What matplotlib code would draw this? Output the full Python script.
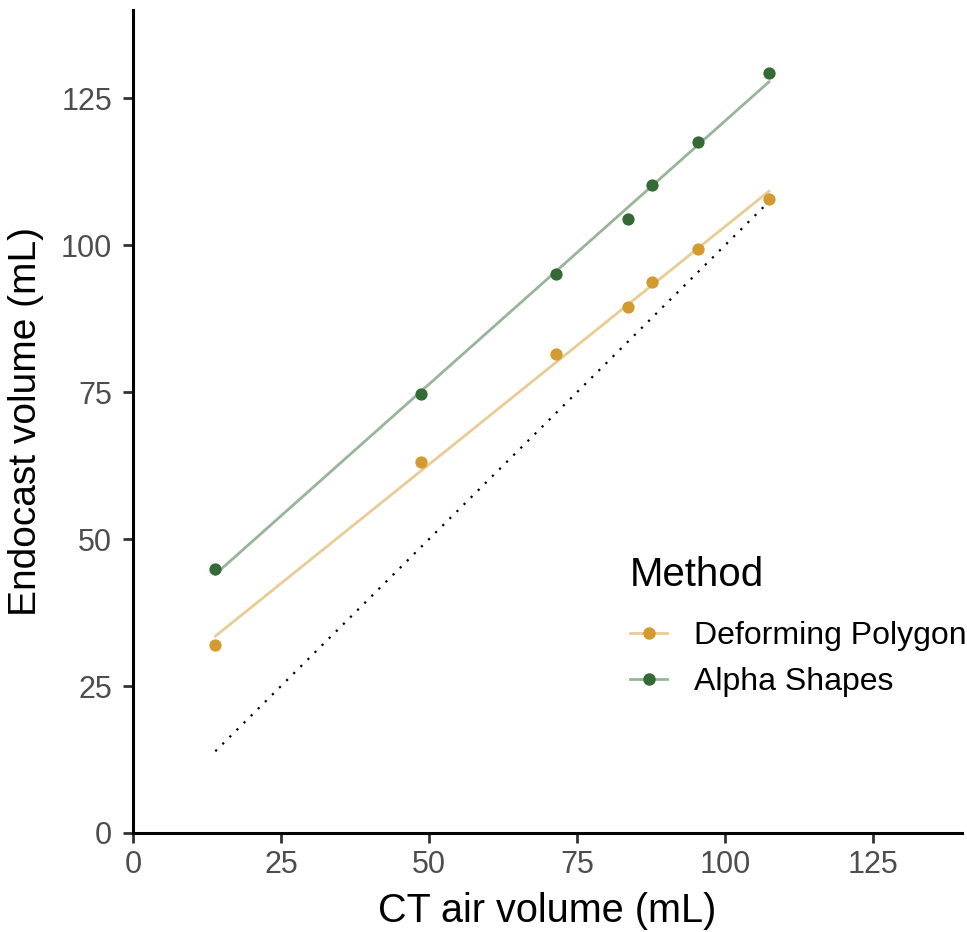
import numpy as np
import matplotlib.pyplot as plt
from matplotlib.lines import Line2D

plt.rcParams['font.family'] = ['Liberation Sans', 'DejaVu Sans']

# data
ct_air = [13.9, 48.6, 71.5, 83.6, 87.7, 95.4, 107.4]
deforming = [32.0, 63.1, 81.5, 89.5, 93.7, 99.3, 107.8]
alpha = [44.9, 74.7, 95.1, 104.4, 110.2, 117.5, 129.3]
methods = ['Deforming Polygon', 'Alpha Shapes']
colors = ['#D39A2F', '#346A35']
ticks = [0, 25, 50, 75, 100, 125]

fig = plt.figure(figsize=(9.67, 9.32), dpi=100)
ax = fig.add_axes([133/967, 99/932, 829/967, 823/932])

x = np.array(ct_air)
xs = np.array([x.min(), x.max()])

# 1:1 line
ax.plot(xs, xs, color='black', linestyle=(0, (1, 3.5)), linewidth=1.6, zorder=1)

for yv, col in zip([deforming, alpha], colors):
    m, b = np.polyfit(x, yv, 1)
    ax.plot(xs, m * xs + b, color=col, alpha=0.5, linewidth=2, zorder=2)
    ax.scatter(x, yv, color=col, s=78, zorder=3, linewidths=0)

ax.set_xlim(0, 140)
ax.set_ylim(0, 140)
ax.set_xticks(ticks)
ax.set_yticks(ticks)
ax.tick_params(labelsize=22, labelcolor='#4d4d4d', color='#333333', width=2, length=7)
ax.tick_params(axis='y', pad=8)
ax.tick_params(axis='x', pad=5)
for s in ['top', 'right']:
    ax.spines[s].set_visible(False)
for s in ['left', 'bottom']:
    ax.spines[s].set_linewidth(2.2)
ax.set_xlabel('CT air volume (mL)', fontsize=28.5, labelpad=9)
ax.set_ylabel('Endocast volume (mL)', fontsize=28, labelpad=12)

handles = [(Line2D([0], [0], color=c, linewidth=2, alpha=0.5),
            Line2D([0], [0], color=c, marker='o', markersize=9,
                   linestyle='none', markeredgewidth=0)) for c in colors]
leg = ax.legend(handles, methods, title='Method', loc='upper left',
                bbox_to_anchor=(0.565, 0.372), frameon=False, fontsize=23,
                title_fontsize=29, handlelength=1.15, labelspacing=0.5,
                handletextpad=0.85)
leg._legend_box.align = 'left'
leg._legend_box.sep = 20

fig.savefig('out.png', dpi=100)
